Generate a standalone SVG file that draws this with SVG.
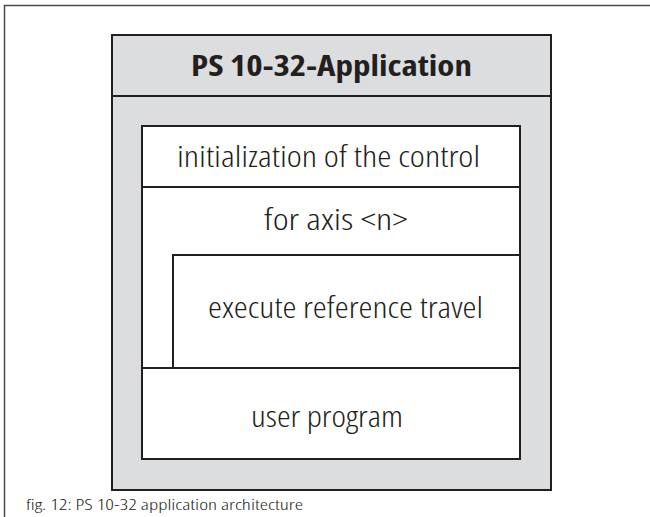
<svg xmlns="http://www.w3.org/2000/svg" width="650" height="517" viewBox="0 0 650 517">
<style>
.ln{fill:none;stroke:#231f20;stroke-width:2}
.box{stroke:#231f20;stroke-width:2}
.t{font-family:"Open Sans","Liberation Sans",Arial,sans-serif;font-stretch:condensed;fill:#231f20;text-anchor:start}
.lbl{font-size:30px;font-weight:300}
</style>
<rect width="650" height="517" fill="#ffffff"/>
<path d="M4.5 517 V5.5 H650" fill="none" stroke="#4a4a4a" stroke-width="1.5"/>
<g id="app">
<rect class="box" x="112" y="35" width="439" height="455" fill="#dcdddf"/>
<line class="ln" x1="112" y1="96" x2="551" y2="96"/>
<text class="t" x="191" y="76" font-size="29" font-weight="bold" textLength="281" lengthAdjust="spacingAndGlyphs">PS 10-32-Application</text>
</g>
<g id="init">
<rect class="box" x="142" y="126" width="378" height="333" fill="#ffffff"/>
<text class="t lbl" x="177" y="167" textLength="303" lengthAdjust="spacingAndGlyphs">initialization of the control</text>
</g>
<g id="loop">
<line class="ln" x1="142" y1="187" x2="520" y2="187"/>
<text class="t lbl" x="264" y="230" textLength="144" lengthAdjust="spacingAndGlyphs">for axis &lt;n&gt;</text>
</g>
<g id="ref">
<path class="ln" d="M173 368 V255 H520"/>
<text class="t lbl" x="208" y="318" textLength="275" lengthAdjust="spacingAndGlyphs">execute reference travel</text>
</g>
<g id="user">
<line class="ln" x1="142" y1="368" x2="520" y2="368"/>
<text class="t lbl" x="251" y="427" textLength="152" lengthAdjust="spacingAndGlyphs">user program</text>
</g>
<text class="t" x="26" y="510" font-size="15" font-weight="350" textLength="277" lengthAdjust="spacingAndGlyphs">fig. 12: PS 10-32 application architecture</text>
</svg>
